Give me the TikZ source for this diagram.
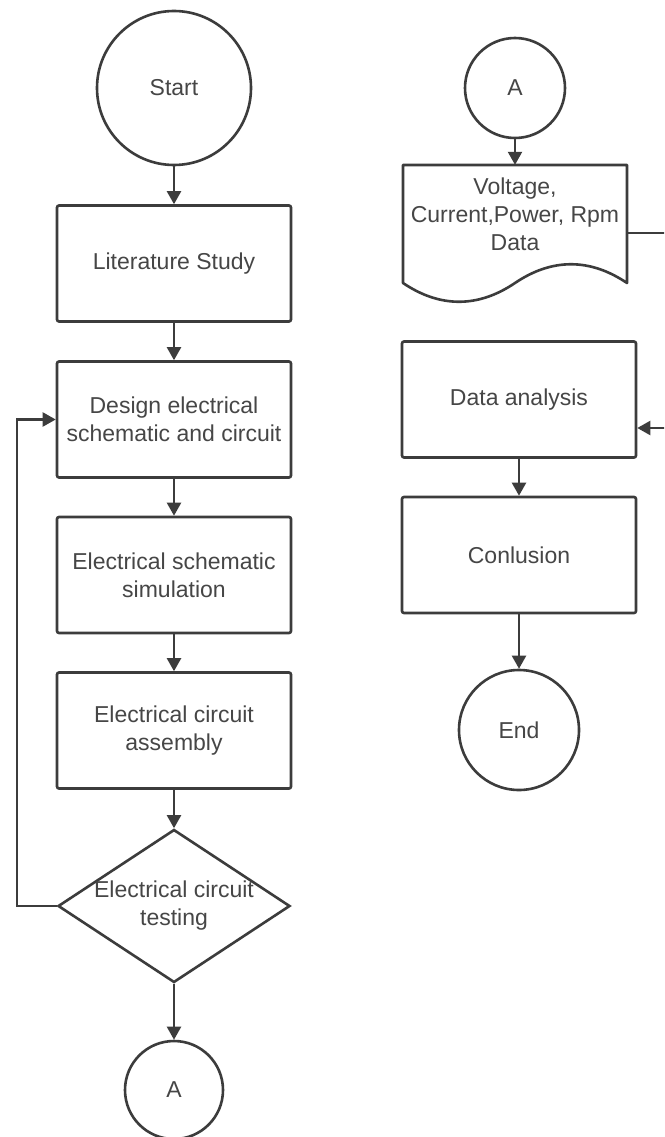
\documentclass[tikz,border=0pt]{standalone}
\usepackage{fontspec}
\setmainfont{Liberation Sans}
\usetikzlibrary{arrows.meta,calc,shapes.geometric}
\definecolor{ln}{RGB}{60,60,60}
\definecolor{tx}{RGB}{70,70,70}
\begin{document}
\begin{tikzpicture}[x=1pt,y=-1pt,
  every node/.style={font=\fontsize{23}{28}\selectfont, text=tx},
  box/.style={draw=ln, line width=2.6pt, rounded corners=2pt, minimum width=234pt, minimum height=116pt, align=center, inner sep=0pt},
  term/.style={circle, draw=ln, line width=2.6pt, inner sep=0pt},
  decide/.style={diamond, draw=ln, line width=2.6pt, minimum width=232pt, minimum height=153pt, inner sep=0pt},
  conn/.style={draw=ln, line width=2.2pt, -{Triangle[width=14pt,length=13pt]}},
  ]
\useasboundingbox (0,0) rectangle (664,1137);
\fill[white] (0,0) rectangle (664,1137);
\clip (0,0) rectangle (664,1137);

% left column
\node[term, minimum size=154pt] (start) at (174,88) {Start};
\node[box] (lit) at (174,263.5) {Literature Study};
\node[box] (des) at (174,419.5) {Design electrical\\schematic and circuit};
\node[box] (sim) at (174,575) {Electrical schematic\\simulation};
\node[box] (asm) at (174,730.5) {Electrical circuit\\assembly};
\node[decide] (tst) at (174,906) {};
\node[align=center, inner sep=0pt] (tsttext) at (174,906) {Electrical circuit\\testing};
\node[term, minimum size=98pt] (a1) at (174,1090) {A};

% right column
\node[term, minimum size=100pt] (a2) at (515,88) {A};
\node[minimum width=224pt, minimum height=118pt, inner sep=0pt] (doc) at (515,224) {};
\draw[ln, line width=2.6pt, line join=round]
  (403,165) -- (627,165) -- (627,283)
  .. controls (590,258) and (552,258) .. (515,283)
  .. controls (478,308) and (440,308) .. (403,283) -- cycle;
\node[align=center, inner sep=0pt] (doctext) at (515,214) {Voltage,\\Current,Power, Rpm\\Data};
\node[box] (da) at (519,399.5) {Data analysis};
\node[box] (con) at (519,555) {Conlusion};
\node[term, minimum size=120pt] (end) at (519,730) {End};

% connectors
\draw[conn] (start) -- (lit);
\draw[conn] (lit) -- (des);
\draw[conn] (des) -- (sim);
\draw[conn] (sim) -- (asm);
\draw[conn] (asm) -- (tst);
\draw[conn] (tst) -- (a1);
\draw[conn] (tst.west) -- ++(-40,0) |- (des.west);
\draw[conn] (a2) -- (doc.north);
\draw[conn] (da) -- (con);
\draw[conn] (con) -- (end);
\coordinate (dout) at ($(doc.east)+(0,9)$);
\coordinate (din) at ($(da.east)+(0,28.5)$);
\draw[conn] (dout) -- ++(45,0) |- (din);
\end{tikzpicture}
\end{document}
